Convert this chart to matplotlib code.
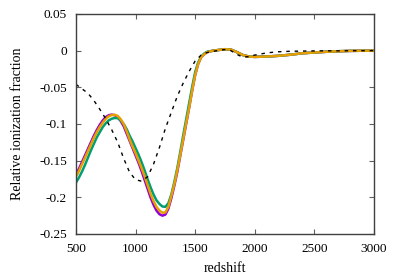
import matplotlib
matplotlib.use("Agg")
import matplotlib.pyplot as plt

z_main = [500, 525, 550, 575, 600, 625, 650, 675, 700, 725, 750, 775, 800,
          825, 850, 875, 900, 925, 950, 975, 1000, 1025, 1050, 1075, 1100,
          1125, 1150, 1175, 1200, 1225, 1250, 1275, 1300, 1325, 1350, 1375,
          1400, 1425, 1450, 1475, 1500, 1525, 1550, 1575, 1600, 1650,
          1700, 1750, 1800, 1850, 1900, 1950, 2000, 2100, 2200, 2300, 2400,
          2500, 2600, 2700, 2800, 2900, 3000]

tail = [0.000, 0.001, 0.002, 0.0015, -0.002, -0.006, -0.008, -0.0085, -0.008,
        -0.007, -0.0055, -0.0035, -0.0025, -0.0015, -0.0008, -0.0003,
        -0.0001, 0.0]

purple = [-0.169, -0.161, -0.152, -0.143, -0.134, -0.125, -0.116, -0.108,
          -0.101, -0.095, -0.0905, -0.088, -0.0872, -0.0880, -0.0905, -0.0960,
          -0.103, -0.113, -0.123, -0.133, -0.143, -0.153, -0.164, -0.176,
          -0.188, -0.200, -0.210, -0.218, -0.223, -0.225, -0.2235, -0.2155,
          -0.201, -0.184, -0.165, -0.143, -0.121, -0.099, -0.077, -0.054,
          -0.033, -0.018, -0.009, -0.005, -0.002] + tail

green = [-0.180, -0.173, -0.165, -0.156, -0.146, -0.136, -0.127, -0.118,
         -0.111, -0.104, -0.099, -0.095, -0.0928, -0.0918, -0.0920, -0.0950,
         -0.100, -0.107, -0.116, -0.124, -0.133, -0.142, -0.152, -0.163,
         -0.175, -0.186, -0.196, -0.204, -0.209, -0.2125, -0.213, -0.208,
         -0.196, -0.179, -0.160, -0.138, -0.115, -0.093, -0.071, -0.049,
         -0.029, -0.016, -0.008, -0.004, -0.0015] + tail

orange = [-0.172, -0.164, -0.155, -0.146, -0.137, -0.128, -0.119, -0.111,
          -0.104, -0.098, -0.093, -0.0895, -0.0878, -0.0875, -0.0890, -0.0935,
          -0.100, -0.110, -0.121, -0.131, -0.140, -0.150, -0.160, -0.171,
          -0.183, -0.195, -0.205, -0.213, -0.218, -0.221, -0.2205, -0.213,
          -0.198, -0.182, -0.163, -0.142, -0.120, -0.098, -0.077, -0.054,
          -0.033, -0.018, -0.009, -0.005, -0.002] + tail

z_ref = [500, 550, 600, 650, 700, 750, 800, 850, 900, 950, 1000, 1050, 1100,
         1150, 1200, 1250, 1300, 1350, 1400, 1450, 1500, 1550, 1600, 1650,
         1700, 1750, 1800, 1850, 1900, 1950, 2000, 2100, 2200, 2300, 2500,
         3000]
ref = [-0.046, -0.052, -0.058, -0.068, -0.080, -0.093, -0.108, -0.125,
       -0.147, -0.166, -0.176, -0.178, -0.172, -0.155, -0.132, -0.106,
       -0.084, -0.062, -0.044, -0.028, -0.014, -0.006, -0.0025, -0.001,
       0.0005, 0.0015, 0.0, -0.005, -0.009, -0.008, -0.006, -0.003,
       -0.0015, -0.0008, -0.0003, 0.0]

xticks = [500, 1000, 1500, 2000, 2500, 3000]
yticks = [-0.25, -0.2, -0.15, -0.1, -0.05, 0, 0.05]
ytick_labels = ["-0.25", "-0.2", "-0.15", "-0.1", "-0.05", "0", "0.05"]

plt.rcParams['font.family'] = ['Liberation Serif', 'DejaVu Serif']
plt.rcParams['font.size'] = 9.6

fig = plt.figure(figsize=(3.99, 2.79), dpi=100)
ax = fig.add_axes([76/399, 1 - 234/279, (374 - 76)/399, (234 - 14)/279])

ax.plot(z_main, purple, color='#9400D3', lw=1.8, solid_joinstyle='round')
ax.plot(z_main, green, color='#009E73', lw=1.8, solid_joinstyle='round')
ax.plot(z_main, orange, color='#E69F00', lw=1.8, solid_joinstyle='round')
ax.plot(z_ref, ref, color='black', lw=1.0, dashes=(2.5, 3.5))

ax.set_xlim(500, 3000)
ax.set_ylim(-0.25, 0.05)
ax.set_xticks(xticks)
ax.set_xticklabels([str(t) for t in xticks])
ax.set_yticks(yticks)
ax.set_yticklabels(ytick_labels)
ax.tick_params(direction='in', length=3.5, width=0.8, color='#606060',
               top=True, right=True, pad=6.5)
for s in ax.spines.values():
    s.set_color('#404040')
    s.set_linewidth(1.0)

ax.set_xlabel('redshift', fontsize=10, labelpad=5)
ax.set_ylabel('Relative ionization fraction', fontsize=10, labelpad=11)

fig.savefig('out.png', dpi=100)
